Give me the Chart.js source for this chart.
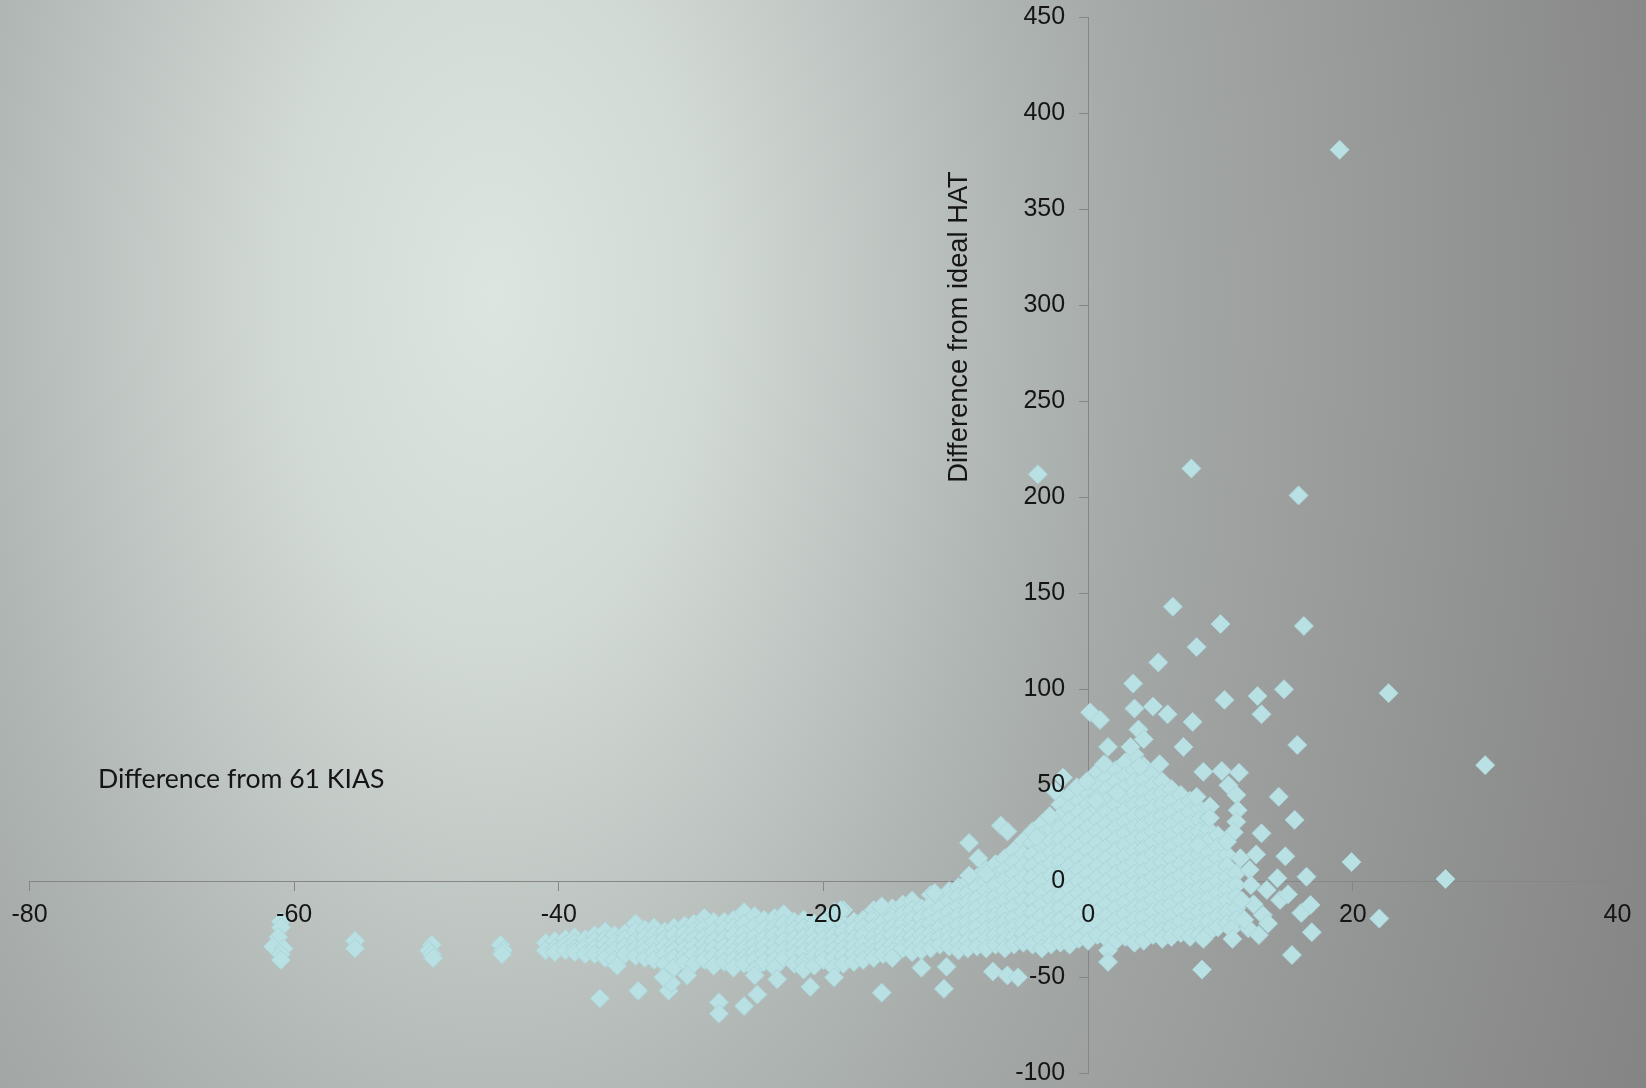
<!DOCTYPE html>
<html>
<head>
<meta charset="utf-8">
<title>Difference from ideal HAT vs. difference from 61 KIAS</title>
<script src="https://cdn.jsdelivr.net/npm/chart.js@4.4.1/dist/chart.umd.min.js"></script>
<style>
  html, body { margin: 0; padding: 0; width: 1646px; height: 1088px; overflow: hidden; }
  body {
    background: radial-gradient(1400px 2330px at 493px 294px,
      rgb(221,229,225) 0%, rgb(210,218,214) 15%, rgb(175,182,179) 37%,
      rgb(162,166,164) 49%, rgb(136,137,136) 83%, rgb(124,124,124) 100%);
  }
  canvas { display: block; }
</style>
</head>
<body>
<canvas id="chart" width="1646" height="1088"></canvas>
<script>
// Axis ticks and captions
const xTicks = [-80, -60, -40, -20, 0, 20, 40];
const yTicks = [-100, -50, 0, 50, 100, 150, 200, 250, 300, 350, 400, 450];
const xTitle = 'Difference from 61 KIAS';
const yTitle = 'Difference from ideal HAT';

// Approaches flown far below 61 KIAS: [KIAS difference, HAT difference]
const slowTail = [
  [-61.0, -21], [-61.0, -24], [-61.2, -29], [-61.6, -34], [-60.8, -35], [-61.0, -38], [-61.0, -41],
  [-55.4, -31], [-55.4, -35],
  [-49.6, -33], [-49.8, -36], [-49.6, -38], [-49.5, -40],
  [-44.4, -33], [-44.2, -36], [-44.3, -38]
];

// Main slow band, one column per KIAS difference: [x, [HAT differences]]
const slowBand = [
  [-41.0, [-32, -36]],
  [-40.3, [-31, -35, -37]],
  [-39.5, [-30, -33, -36]],
  [-38.8, [-29, -32, -35, -37]],
  [-38.0, [-30, -34, -38]],
  [-37.3, [-28, -31, -35, -38]],
  [-36.5, [-26, -30, -33, -37, -40]],
  [-35.8, [-28, -32, -36, -41]],
  [-35.0, [-27, -30, -34, -38]],
  [-34.2, [-22, -26, -31, -35, -39]],
  [-33.5, [-25, -29, -33, -36, -40]],
  [-32.8, [-24, -28, -32, -37, -41]],
  [-32.0, [-26, -30, -34, -38, -43]],
  [-31.3, [-24, -28, -33, -36, -40, -45]],
  [-30.5, [-23, -27, -31, -35, -39, -42]],
  [-29.8, [-22, -26, -30, -34, -38, -43]],
  [-29.0, [-19, -24, -29, -33, -37, -41]],
  [-28.3, [-21, -26, -31, -35, -39, -44]],
  [-27.5, [-21, -25, -30, -34, -38, -42]],
  [-26.8, [-20, -24, -28, -33, -37, -41, -45]],
  [-26.0, [-16, -22, -27, -31, -35, -40, -43]],
  [-25.2, [-18, -23, -29, -33, -37, -41, -46]],
  [-24.5, [-20, -25, -30, -34, -38, -42]],
  [-23.7, [-19, -24, -28, -33, -37, -41, -45]],
  [-23.0, [-17, -22, -27, -31, -36, -40]],
  [-22.2, [-21, -25, -30, -34, -38, -43]],
  [-21.5, [-20, -24, -29, -33, -37, -42, -46]],
  [-20.7, [-22, -27, -31, -35, -39, -44]],
  [-20.0, [-21, -25, -30, -34, -38, -41]],
  [-19.2, [-16, -23, -28, -32, -36, -40, -45]],
  [-18.5, [-15, -22, -26, -31, -35, -39, -43]],
  [-17.7, [-21, -25, -30, -34, -38, -42]],
  [-17.0, [-20, -24, -28, -33, -37, -41]],
  [-16.2, [-15, -19, -24, -29, -33, -37, -40]],
  [-15.5, [-16, -21, -26, -30, -34, -38]],
  [-14.8, [-14, -19, -24, -28, -33, -37, -40]]
];

// Isolated points around the slow band
const bandStrays = [
  [-36.9, -61], [-34.0, -57], [-31.7, -57], [-31.5, -53], [-30.3, -49], [-27.9, -63], [-27.9, -69],
  [-26.0, -65], [-25.0, -59], [-23.5, -51], [-21.0, -55], [-19.2, -50], [-15.6, -58], [-35.6, -44],
  [-32.1, -50], [-25.2, -49], [-18.7, -15], [-15.6, -13]
];

// Band rising toward the target speed
const rising = [
  [-14.0, [-12, -17, -22, -27, -31, -35]],
  [-13.3, [-10, -15, -20, -25, -29, -33, -37]],
  [-12.6, [-14, -19, -24, -28, -32, -36]],
  [-11.9, [-7, -12, -17, -22, -27, -31, -35]],
  [-11.2, [-9, -14, -19, -24, -29, -33]],
  [-10.5, [-5, -10, -16, -21, -26, -30, -34]],
  [-9.8, [-3, -8, -13, -18, -23, -28, -32, -36]],
  [-9.1, [0, -6, -11, -16, -21, -26, -31, -35]],
  [-8.4, [2, -3, -9, -14, -19, -24, -29, -34]],
  [-7.7, [6, 0, -5, -10, -15, -20, -25, -30, -35]],
  [-7.0, [9, 3, -2, -8, -13, -18, -23, -28, -33]],
  [-6.3, [12, 6, 1, -5, -10, -16, -21, -26, -31, -35]],
  [-5.6, [16, 10, 4, -2, -8, -13, -19, -24, -29, -33]],
  [-4.9, [21, 14, 8, 2, -4, -10, -16, -22, -27, -32]]
];

const risingStrays = [
  [-12.6, -45], [-10.7, -44.5], [-10.9, -56], [-9.0, 20], [-8.3, 12], [-9.0, 3], [-7.7, 4],
  [-6.6, 29], [-6.1, 26], [-11.6, -6], [-7.2, -47], [-6.1, -49], [-5.3, -50]
];

// Dense cluster around 61 KIAS
const nearTarget = [
  [-4.2, [26, 20, 14, 8, 2, -4, -10, -16, -22, -28, -33]],
  [-3.5, [30, 24, 18, 12, 6, 0, -6, -12, -18, -24, -30, -35]],
  [-2.8, [33, 27, 21, 15, 9, 3, -3, -9, -15, -21, -27, -33]],
  [-2.1, [40, 34, 28, 22, 16, 10, 4, -2, -8, -14, -20, -26, -32]],
  [-1.4, [45, 38, 32, 26, 20, 14, 8, 2, -4, -10, -16, -22, -28, -33]],
  [-0.7, [48, 42, 36, 30, 24, 18, 12, 6, 0, -6, -12, -18, -24, -30]],
  [0.0, [52, 46, 40, 34, 28, 22, 16, 10, 4, -2, -8, -14, -20, -26, -31]],
  [0.7, [57, 50, 44, 38, 32, 26, 20, 14, 8, 2, -4, -10, -16, -22, -28]],
  [1.4, [60, 54, 48, 42, 36, 30, 24, 18, 12, 6, 0, -6, -12, -18, -24, -30]],
  [2.1, [58, 52, 46, 40, 34, 28, 22, 16, 10, 4, -2, -8, -14, -20, -26, -31]],
  [2.8, [62, 55, 49, 43, 37, 31, 25, 19, 13, 7, 1, -5, -11, -17, -23, -29]],
  [3.5, [66, 58, 52, 46, 40, 34, 28, 22, 16, 10, 4, -2, -8, -14, -20, -26, -32]],
  [4.2, [60, 53, 47, 41, 35, 29, 23, 17, 11, 5, -1, -7, -13, -19, -25, -31]],
  [4.9, [56, 50, 44, 38, 32, 26, 20, 14, 8, 2, -4, -10, -16, -22, -28]],
  [5.6, [52, 46, 40, 34, 28, 22, 16, 10, 4, -2, -8, -14, -20, -26, -30]],
  [6.3, [48, 42, 36, 30, 24, 18, 12, 6, 0, -6, -12, -18, -24, -29]],
  [7.0, [45, 39, 33, 27, 21, 15, 9, 3, -3, -9, -15, -21, -27]],
  [7.7, [42, 36, 30, 24, 18, 12, 6, 0, -6, -12, -18, -24, -29]],
  [8.4, [38, 32, 26, 20, 14, 8, 2, -4, -10, -16, -22, -28]],
  [9.1, [33, 27, 21, 15, 9, 3, -3, -9, -15, -21, -27]],
  [9.8, [24, 18, 12, 6, 0, -6, -12, -18, -24]],
  [10.5, [14, 8, 2, -4, -10, -16, -22]],
  [11.2, [4, -2, -8, -14, -20]]
];

// Scattered approaches above and to the right of the cluster
const scattered = [
  [-3.9, 23], [-2.9, 34], [-2.5, 47], [-1.9, 54], [-0.85, 49], [-0.1, 52], [0.6, 42], [2.2, 46],
  [1.2, 61], [1.5, 70], [3.2, 70], [3.9, 60], [3.8, 79], [4.2, 74], [5.4, 61], [0.15, 88], [0.9, 84],
  [3.5, 90], [4.9, 91], [6.0, 87], [7.9, 83], [7.2, 70], [3.4, 103], [5.3, 114], [6.4, 143],
  [8.2, 122], [10.0, 134], [16.3, 133], [12.8, 96.5], [14.8, 100], [10.3, 94.5], [13.1, 87],
  [15.8, 71], [22.7, 98], [30.0, 60.5], [8.7, 57], [10.1, 57.5], [11.4, 56.5], [14.4, 44],
  [15.6, 32], [13.1, 25], [14.9, 13], [16.5, 2.4], [19.9, 10], [27.0, 1.2], [22.0, -19.4],
  [16.9, -26.5], [15.4, -38.4], [8.6, -46], [16.1, -16.5], [16.8, -12.3], [14.3, 1.6], [12.2, 6],
  [13.5, -4.5], [14.5, -9.7], [12.1, -24.5], [13.2, -17.6], [15.1, -6.8], [8.2, 44], [9.2, 39],
  [9.2, 33], [8.3, 19], [10.6, 50], [11.2, 45], [11.3, 37], [11.2, 31], [11.0, 25.5], [10.5, 20.6],
  [7.8, 215], [15.9, 201], [19.0, 381], [-3.8, 212], [1.5, -36], [1.5, -42], [10.8, -25],
  [11.8, -20], [12.5, -12], [12.9, -28], [11.6, -10], [13.6, -22], [10.9, -30], [12.3, -2],
  [11.5, 12], [12.7, 14], [8.7, -30]
];

const fromPairs = pairs => pairs.map(([x, y]) => ({ x, y }));
const fromColumns = cols => cols.flatMap(([x, ys]) => ys.map(y => ({ x, y })));

const approaches = [
  ...fromPairs(slowTail),
  ...fromColumns(slowBand),
  ...fromPairs(bandStrays),
  ...fromColumns(rising),
  ...fromPairs(risingStrays),
  ...fromColumns(nearTarget),
  ...fromPairs(scattered)
];

const axisColor = '#868686';
const labelColor = '#151515';
const tickFont = { family: '"Liberation Sans", Arial, sans-serif', size: 25 };
const tickFontCss = '25px "Liberation Sans", Arial, sans-serif';

// Value labels for the vertical axis, set off to the left of the axis line
const yTickLabels = {
  id: 'yTickLabels',
  afterDraw(chart) {
    const { ctx, scales: { x, y } } = chart;
    const axisX = x.getPixelForValue(0);
    ctx.save();
    ctx.fillStyle = labelColor;
    ctx.font = tickFontCss;
    ctx.textAlign = 'right';
    ctx.textBaseline = 'middle';
    y.ticks.forEach(t => ctx.fillText(String(t.value), axisX - 23, y.getPixelForValue(t.value)));
    ctx.restore();
  }
};

// Axis captions drawn as free text, like the original worksheet labels
const axisCaptions = {
  id: 'axisCaptions',
  afterDraw(chart) {
    const ctx = chart.ctx;
    ctx.save();
    ctx.fillStyle = labelColor;
    ctx.textBaseline = 'alphabetic';
    ctx.textAlign = 'left';
    ctx.font = '26.6px Lato, "Open Sans", sans-serif';
    ctx.fillText(xTitle, 98, 788);
    ctx.translate(967, 327);
    ctx.rotate(-Math.PI / 2);
    ctx.textAlign = 'center';
    ctx.font = '27.3px "Liberation Sans", Arial, sans-serif';
    ctx.fillText(yTitle, 0, 0);
    ctx.restore();
  }
};

new Chart(document.getElementById('chart'), {
  type: 'scatter',
  data: {
    datasets: [{
      data: approaches,
      pointStyle: 'rectRot',
      pointRadius: 9.5,
      pointBackgroundColor: 'rgb(185,225,228)',
      pointBorderColor: 'rgb(171,213,217)',
      pointBorderWidth: 1
    }]
  },
  options: {
    responsive: false,
    animation: false,
    events: [],
    layout: { padding: { left: 29.5, right: 28.5, top: 17.3, bottom: 14.7 } },
    plugins: { legend: { display: false }, tooltip: { enabled: false } },
    scales: {
      x: {
        type: 'linear',
        min: xTicks[0],
        max: xTicks[xTicks.length - 1],
        position: { y: 0 },
        afterBuildTicks: scale => { scale.ticks = xTicks.map(value => ({ value })); },
        grid: { drawOnChartArea: false, drawTicks: true, tickLength: 9, color: axisColor, lineWidth: 1, z: -1 },
        border: { display: true, color: axisColor, width: 1, z: -1 },
        ticks: { z: 1, padding: 10, color: labelColor, font: tickFont, maxRotation: 0, autoSkip: false }
      },
      y: {
        type: 'linear',
        min: yTicks[0],
        max: yTicks[yTicks.length - 1],
        position: { x: 0 },
        afterBuildTicks: scale => { scale.ticks = yTicks.map(value => ({ value })); },
        grid: { drawOnChartArea: false, drawTicks: true, tickLength: 9, color: axisColor, lineWidth: 1, z: -1 },
        border: { display: true, color: axisColor, width: 1, z: -1 },
        ticks: { display: false, padding: 0 }
      }
    }
  },
  plugins: [yTickLabels, axisCaptions]
});
</script>
</body>
</html>
